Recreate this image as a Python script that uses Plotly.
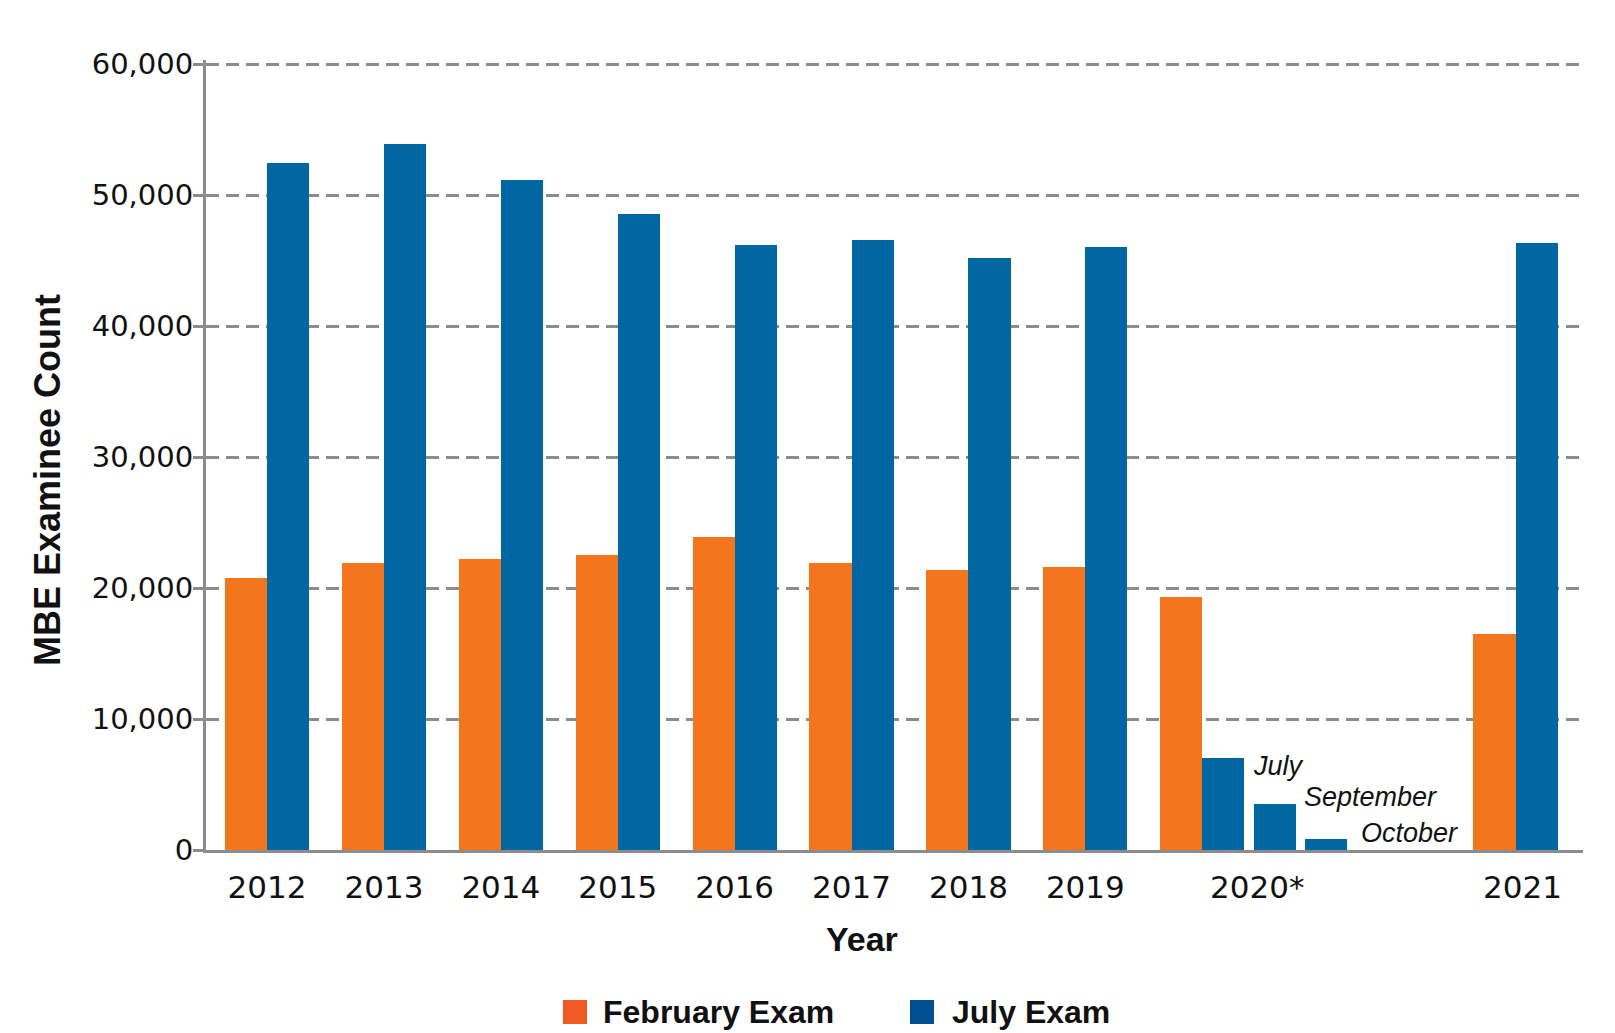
import plotly.graph_objects as go

# ---------------- data ----------------
years = ["2012", "2013", "2014", "2015", "2016", "2017", "2018", "2019", "2020*", "2021"]
february_exam = [20800, 21930, 22240, 22490, 23890, 21910, 21370, 21630, 19310, 16500]
july_exam_years = ["2012", "2013", "2014", "2015", "2016", "2017", "2018", "2019", "2021"]
july_exam = [52420, 53870, 51120, 48550, 46160, 46560, 45190, 46030, 46340]
sessions_2020 = ["July", "September", "October"]
sessions_2020_values = [7020, 3490, 840]
y_ticks = [0, 10000, 20000, 30000, 40000, 50000, 60000]

# ---------------- layout helpers ----------------
group_pos = {"2012": 0, "2013": 1, "2014": 2, "2015": 3, "2016": 4, "2017": 5,
             "2018": 6, "2019": 7, "2020*": 8, "2021": 10.68}
label_pos = {"2020*": 8.47, "2021": 10.74}
bw = 0.36
half = bw / 2
session_step = 0.44

ORANGE = "#F3761F"
BLUE = "#0067A3"
GRID = "#8c8c8c"

OFF = 8  # page body margin
W, H = 1615 - OFF, 1033 - OFF
L = 206 - OFF
R = W - (1583 - OFF)
T = 60 - OFF
B = H - (850 - OFF)
pw, ph = W - L - R, H - T - B
y_top = 60000 * (850 - 60) / (850 - 64)


def px_x(p):
    return (p - OFF - L) / pw


def px_y(p):
    return (H - B - (p - OFF)) / ph


fig = go.Figure()

fig.add_trace(go.Bar(
    x=[group_pos[y] - half for y in years], y=february_exam, width=bw,
    marker=dict(color=ORANGE, line=dict(width=0)), name="February Exam",
    showlegend=False,
))
fig.add_trace(go.Bar(
    x=[group_pos[y] + half for y in july_exam_years], y=july_exam, width=bw,
    marker=dict(color=BLUE, line=dict(width=0)), name="July Exam",
    showlegend=False,
))
s_x = [group_pos["2020*"] + half + k * session_step for k in range(len(sessions_2020))]
fig.add_trace(go.Bar(
    x=s_x, y=sessions_2020_values, width=bw,
    marker=dict(color=BLUE, line=dict(width=0)), name="2020 sessions",
    showlegend=False,
))

# session labels
shifts = [(7, -8), (6, 7), (12, 6)]
for xv, yv, txt, (dx, dy) in zip(s_x, sessions_2020_values, sessions_2020, shifts):
    fig.add_annotation(
        x=xv + half, y=yv, xref="x", yref="y", text=f"<i>{txt}</i>", showarrow=False,
        xanchor="left", yanchor="middle", xshift=dx, yshift=dy,
        font=dict(family="Liberation Sans", size=27, color="#111111"),
    )

# axis titles
fig.add_annotation(
    x=px_x(862), y=px_y(939), xref="paper", yref="paper", text="<b>Year</b>",
    showarrow=False, xanchor="center", yanchor="middle",
    font=dict(family="Liberation Sans", size=34, color="#111111"),
)
fig.add_annotation(
    x=px_x(48), y=px_y(480), xref="paper", yref="paper", text="<b>MBE Examinee Count</b>",
    showarrow=False, xanchor="center", yanchor="middle", textangle=-90,
    font=dict(family="Liberation Sans", size=36, color="#111111"),
)

# legend (drawn manually for larger swatches)
legend_items = [("February Exam", "#F15A24", 563, 601), ("July Exam", "#004F91", 910, 950)]
for txt, col, sx, tx in legend_items:
    fig.add_shape(
        type="rect", xref="paper", yref="paper",
        x0=px_x(sx), x1=px_x(sx + 24), y0=px_y(1024), y1=px_y(1000),
        fillcolor=col, line=dict(width=0),
    )
    fig.add_annotation(
        x=px_x(tx), y=px_y(1012), xref="paper", yref="paper", text=f"<b>{txt}</b>",
        showarrow=False, xanchor="left", yanchor="middle",
        font=dict(family="Liberation Sans", size=32, color="#111111"),
    )

tickvals = [label_pos.get(y, group_pos[y]) for y in years]

fig.update_layout(
    width=W, height=H,
    margin=dict(l=L, r=R, t=T, b=B, pad=0),
    paper_bgcolor="white", plot_bgcolor="white",
    barmode="overlay", bargap=0,
    showlegend=False,
    xaxis=dict(
        range=[-0.522, 11.257], tickmode="array", tickvals=tickvals, ticktext=years,
        showgrid=False, zeroline=False, showline=True, linecolor=GRID, linewidth=3,
        ticks="", ticklabelstandoff=8,
        tickfont=dict(family="DejaVu Sans", size=31, color="#111111"),
        fixedrange=True,
    ),
    yaxis=dict(
        range=[0, y_top], tickmode="array", tickvals=y_ticks, tickformat=",",
        showgrid=True, gridcolor=GRID, gridwidth=3, griddash="13px,7px",
        zeroline=False, showline=True, linecolor=GRID, linewidth=3,
        ticks="outside", ticklen=10, tickwidth=3, tickcolor=GRID,
        ticklabelstandoff=-6,
        tickfont=dict(family="DejaVu Sans", size=29, color="#111111"),
        fixedrange=True,
    ),
)

fig.write_html("out.html")
